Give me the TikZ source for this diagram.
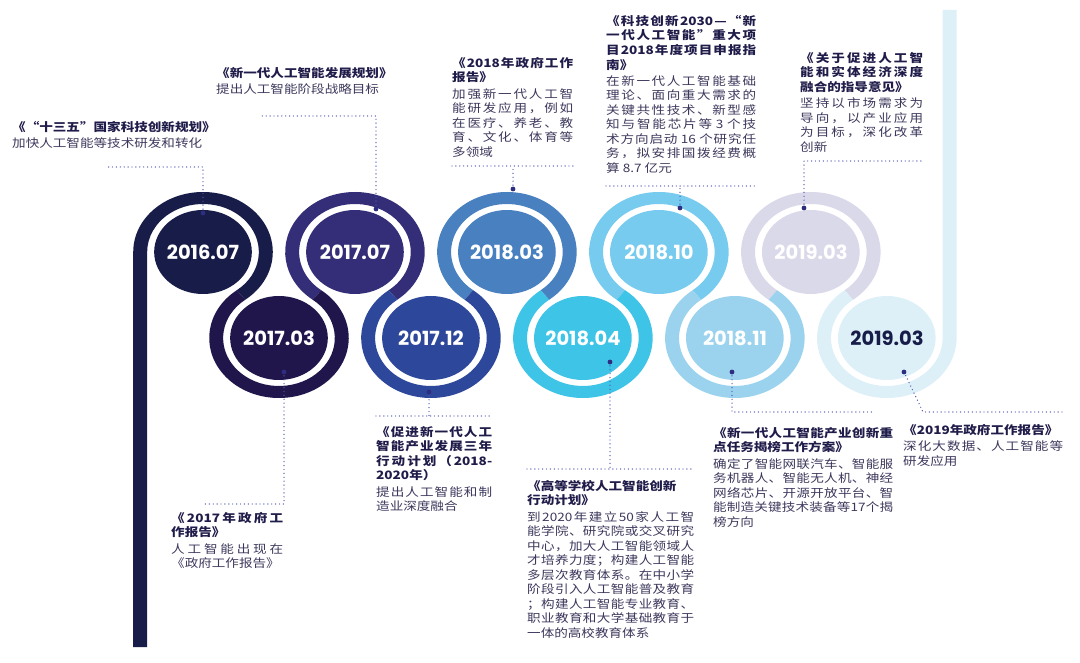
\documentclass[tikz,border=0pt]{standalone}
\usepackage{fontspec}
\setmainfont{Noto Sans CJK SC}[FakeStretch=1.17]
\newfontfamily\datefont{Poppins}
\usepackage{tikz}
\usetikzlibrary{positioning}
\definecolor{tlnavy}{RGB}{23,28,72}
\definecolor{tlplum}{RGB}{33,22,76}
\definecolor{tlviolet}{RGB}{52,46,120}
\definecolor{tlroyal}{RGB}{45,72,155}
\definecolor{tlsteel}{RGB}{72,128,192}
\definecolor{tlcyan}{RGB}{62,196,230}
\definecolor{tlsky}{RGB}{118,203,238}
\definecolor{tlpale}{RGB}{155,211,238}
\definecolor{tllilac}{RGB}{217,217,233}
\definecolor{tlice}{RGB}{221,240,248}
\definecolor{tltitle}{RGB}{32,28,74}
\definecolor{tltext}{RGB}{60,56,92}
\definecolor{tldot}{RGB}{82,86,176}
\definecolor{tlpin}{RGB}{46,46,128}
% stretchable glue between CJK characters, so that lines can be justified
\XeTeXinterchartokenstate=1
\newcount\cjkc
\cjkc="3000 \loop\XeTeXcharclass\cjkc=7 \advance\cjkc by 1 \ifnum\cjkc<"3040 \repeat
\cjkc="4E00 \loop\XeTeXcharclass\cjkc=7 \advance\cjkc by 1 \ifnum\cjkc<"A000 \repeat
\cjkc="FF00 \loop\XeTeXcharclass\cjkc=7 \advance\cjkc by 1 \ifnum\cjkc<"FFF0 \repeat
\XeTeXcharclass"201C=7 \XeTeXcharclass"201D=7 \XeTeXcharclass"2014=7
\newcommand\cjkfill{\hskip 0pt plus 4pt\relax}
\XeTeXinterchartoks 7 7 = {\cjkfill}
\XeTeXinterchartoks 0 7 = {\cjkfill}
\XeTeXinterchartoks 7 0 = {\cjkfill}
\newlength\colw
\newcommand\jl[1]{\makebox[\colw][s]{#1}}
\tikzset{
  ttl/.style={
    font=\bfseries\fontsize{11.6}{14.6}\selectfont, text=tltitle,
    inner sep=0pt, align=left, anchor=north west,
    execute at begin node={\setlength\colw{#1}}
  },
  txt/.style={
    font=\fontsize{11.6}{14.5}\selectfont, text=tltext,
    inner sep=0pt, align=left, anchor=north west,
    execute at begin node={\setlength\colw{#1}}
  },
  yr/.style={font=\datefont\bfseries\fontsize{19.5}{20}\selectfont, text=white, inner sep=0pt},
  lead/.style={draw=tldot, line width=1.4pt, line cap=round, dash pattern=on 0pt off 3.9pt},
  pin/.style={fill=tlpin}
}

\begin{document}
\begin{tikzpicture}[x=1pt, y=1pt]
  \useasboundingbox (0,0) rectangle (1080,662);

  % the winding band
  \begin{scope}[shift={(203,410)}, xscale=1.163]
    \fill[tlnavy] (-60,-395) -- (-60,0) arc[start angle=180, end angle=-52.78, radius=60]
      -- ++(-52.78:-12) arc[start angle=-52.78, end angle=180, radius=48] -- (-48,-395) -- cycle;
    \foreach \k/\c in {2/tlviolet, 4/tlsteel, 6/tlsky, 8/tllilac}
      \fill[\c] (\k*65.33,0) ++(232.78:60) arc[start angle=232.78, end angle=-52.78, radius=60]
        -- ++(-52.78:-12) arc[start angle=-52.78, end angle=232.78, radius=48] -- cycle;
    \foreach \k/\c in {1/tlplum, 3/tlroyal, 5/tlcyan, 7/tlpale}
      \fill[\c] (\k*65.33,-86) ++(127.22:60) arc[start angle=127.22, end angle=412.78, radius=60]
        -- ++(52.78:-12) arc[start angle=412.78, end angle=127.22, radius=48] -- cycle;
    \fill[tlice] (587.97,-86) ++(127.22:60) arc[start angle=127.22, end angle=360, radius=60]
      -- (647.97,242) -- (635.97,242) -- (635.97,-86)
      arc[start angle=360, end angle=127.22, radius=48] -- cycle;
    \foreach \k/\y/\c in {0/0/tlnavy, 1/-86/tlplum, 2/0/tlviolet, 3/-86/tlroyal, 4/0/tlsteel,
        5/-86/tlcyan, 6/0/tlsky, 7/-86/tlpale, 8/0/tllilac, 9/-86/tlice}
      \fill[\c] (\k*65.33,\y) circle[radius=42];
  \end{scope}

  % pins and leader lines
  \coordinate (p1) at (203,449);  \coordinate (u1) at (107,495);
  \coordinate (p2) at (284,290);  \coordinate (u2) at (203,158);
  \coordinate (p3) at (376,453);  \coordinate (u3) at (261,546);
  \coordinate (p4) at (429,270);  \coordinate (u4a) at (376,246); \coordinate (u4b) at (492,246);
  \coordinate (p5) at (513,473);  \coordinate (u5a) at (452,496); \coordinate (u5b) at (573,496);
  \coordinate (p6) at (610,300);  \coordinate (u6a) at (527,193); \coordinate (u6b) at (694,193);
  \coordinate (p7) at (680,454);  \coordinate (u7a) at (606,476); \coordinate (u7b) at (756,476);
  \coordinate (p8) at (732,290);  \coordinate (u8) at (875,250);
  \coordinate (p9) at (804,454);  \coordinate (u9) at (923,501);
  \coordinate (p10) at (904,290); \coordinate (u10a) at (923,250); \coordinate (u10b) at (1063,250);

  \draw[lead] (p1) |- (u1);
  \draw[lead] (p2) |- (u2);
  \draw[lead] (p3) |- (u3);
  \draw[lead] (u4a) -- (u4b); \draw[lead] (p4) -- (p4 |- u4a);
  \draw[lead] (u5a) -- (u5b); \draw[lead] (p5) -- (p5 |- u5a);
  \draw[lead] (u6a) -- (u6b); \draw[lead] (p6) -- (p6 |- u6a);
  \draw[lead] (u7a) -- (u7b); \draw[lead] (p7) -- (p7 |- u7a);
  \draw[lead] (p8) |- (u8);
  \draw[lead] (p9) |- (u9);
  \draw[lead] (p10) -- (u10a) -- (u10b);
  \foreach \p in {p1,p2,p3,p4,p5,p6,p7,p8,p9,p10}
    \fill[pin] (\p) circle[radius=2.4];

  % dates
  \foreach \k/\d in {0/2016.07, 2/2017.07, 4/2018.03, 6/2018.10, 8/2019.03}
    \node[yr] (d\k) at (203+76*\k,410) {\d};
  \foreach \k/\d in {1/2017.03, 3/2017.12, 5/2018.04, 7/2018.11}
    \node[yr] (d\k) at (203+76*\k,324) {\d};
  \node[yr, text=tlnavy] (d9) at (887,324) {2019.03};

  % documents
  \node[ttl=210pt] (t1) at (12,541) {《“十三五”国家科技创新规划》};
  \node[below=5pt of t1.south west, txt=210pt] (b1) {加快人工智能等技术研发和转化};

  \node[ttl=112pt] (t2) at (171,150) {\jl{《2017年政府工}\\作报告》};
  \node[below=5pt of t2.south west, txt=112pt] (b2) {\jl{人工智能出现在}\\《政府工作报告》};

  \node[ttl=175pt] (t3) at (216,595) {《新一代人工智能发展规划》};
  \node[below=5pt of t3.south west, txt=175pt] (b3) {提出人工智能阶段战略目标};

  \node[ttl=116pt] (t4) at (376,236)
    {\jl{《促进新一代人工}\\\jl{智能产业发展三年}\\\jl{行动计划（2018-}\\2020年）};
  \node[below=5pt of t4.south west, txt=116pt] (b4) {\jl{提出人工智能和制}\\造业深度融合};

  \node[ttl=121pt] (t5) at (452,605) {\jl{《2018年政府工作}\\报告》};
  \node[below=5pt of t5.south west, txt=121pt] (b5)
    {\jl{加强新一代人工智}\\\jl{能研发应用，例如}\\\jl{在医疗、养老、教}\\\jl{育、文化、体育等}\\多领域};

  \node[ttl=167pt] (t6) at (527,182) {《高等学校人工智能创新\\行动计划》};
  \node[below=5pt of t6.south west, txt=167pt] (b6)
    {\jl{到2020年建立50家人工智}\\\jl{能学院、研究院或交叉研究}\\\jl{中心，加大人工智能领域人}\\
     \jl{才培养力度；构建人工智能}\\\jl{多层次教育体系。在中小学}\\\jl{阶段引入人工智能普及教育}\\
     \jl{；构建人工智能专业教育、}\\\jl{职业教育和大学基础教育于}\\一体的高校教育体系};

  \node[ttl=150pt] (t7) at (606,647)
    {\jl{《科技创新2030—“新}\\\jl{一代人工智能”重大项}\\\jl{目2018年度项目申报指}\\南》};
  \node[below=5pt of t7.south west, txt=150pt] (b7)
    {\jl{在新一代人工智能基础}\\\jl{理论、面向重大需求的}\\\jl{关键共性技术、新型感}\\
     \jl{知与智能芯片等 3 个技}\\\jl{术方向启动 16 个研究任}\\\jl{务，拟安排国拨经费概}\\算 8.7 亿元};

  \node[ttl=180pt] (t8) at (713,235) {\jl{《新一代人工智能产业创新重}\\点任务揭榜工作方案》};
  \node[below=5pt of t8.south west, txt=180pt] (b8)
    {\jl{确定了智能网联汽车、智能服}\\\jl{务机器人、智能无人机、神经}\\\jl{网络芯片、开源开放平台、智}\\
     \jl{能制造关键技术装备等17个揭}\\榜方向};

  \node[ttl=123pt] (t9) at (800,610) {\jl{《关于促进人工智}\\\jl{能和实体经济深度}\\融合的指导意见》};
  \node[below=5pt of t9.south west, txt=123pt] (b9)
    {\jl{坚持以市场需求为}\\\jl{导向，以产业应用}\\\jl{为目标，深化改革}\\创新};

  \node[ttl=160pt] (t10) at (903,238) {《2019年政府工作报告》};
  \node[below=5pt of t10.south west, txt=160pt] (b10) {\jl{深化大数据、人工智能等}\\研发应用};
\end{tikzpicture}
\end{document}
